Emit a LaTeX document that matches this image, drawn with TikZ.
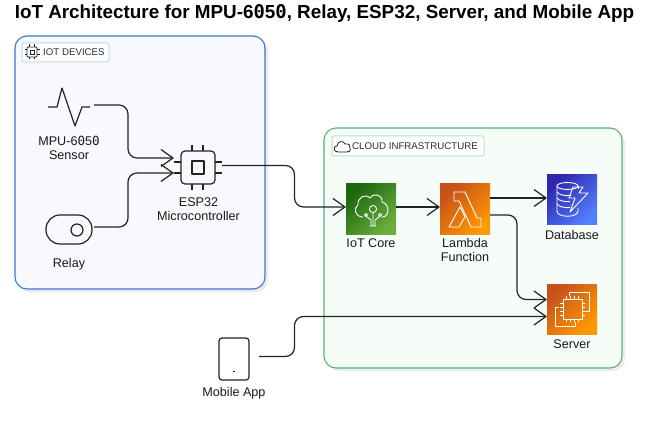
\documentclass[tikz,border=0pt]{standalone}
\usepackage{fontspec}
\setmainfont{Liberation Sans}
\newfontfamily\zerofont{DejaVu Sans Mono}[BoldFont={DejaVu Sans Mono Bold}]
\newcommand{\dz}{{\zerofont 0}}
\usetikzlibrary{arrows.meta}
\definecolor{lineC}{HTML}{222222}
\definecolor{blueS}{HTML}{3A78C8}
\definecolor{blueF}{HTML}{F7F9FD}
\definecolor{greenS}{HTML}{5CB07A}
\definecolor{greenF}{HTML}{F6FDF9}
\definecolor{iotA}{HTML}{1B660F}
\definecolor{iotB}{HTML}{6CAE3E}
\definecolor{lamA}{HTML}{C8511B}
\definecolor{lamB}{HTML}{FF9900}
\definecolor{dbA}{HTML}{2E27AD}
\definecolor{dbB}{HTML}{527FFF}
\tikzset{
  conn/.style={draw=lineC,line width=1.2pt,rounded corners=9pt,-{Straight Barb[length=12pt,width=17pt,line width=1.2pt]}},
  plainline/.style={draw=lineC,line width=1.2pt,line join=round},
  wline/.style={draw=white,line width=0.9pt,line join=round},
  lab/.style={font=\fontsize{12.6}{14}\selectfont,text=black!90,inner sep=0pt,align=center},
  tagbox/.style={rounded corners=2pt,fill=white,line width=1pt},
  tagtext/.style={font=\fontsize{9.7}{11}\selectfont,text=black!82,inner sep=0pt,anchor=west},
  shadowbox/.style={fill=black!8,draw=none,rounded corners=12pt},
  anchorbox/.style={inner sep=0pt,outer sep=0pt},
  awsbox/.style={inner sep=0pt,outer sep=0pt,minimum size=50pt,draw=none},
  iotshade/.style={left color=iotA,right color=iotB,shading angle=45},
  lamshade/.style={left color=lamA,right color=lamB,shading angle=45},
  dbshade/.style={left color=dbA,right color=dbB,shading angle=45},
}
\begin{document}
\begin{tikzpicture}[x=1pt,y=-1pt]
\useasboundingbox (0,0) rectangle (663,430);
\node[inner sep=0pt,font=\bfseries\fontsize{18.85}{22}\selectfont] (title) at (324.5,13) {IoT Architecture for MPU-6\dz5\dz, Relay, ESP32, Server, and Mobile App};

% groups
\draw[shadowbox] (18,39) rectangle (268,292);
\draw[draw=blueS,fill=blueF,line width=1.1pt,rounded corners=12pt] (15,36) rectangle (265,289);
\draw[shadowbox] (327,131) rectangle (625,371);
\draw[draw=greenS,fill=greenF,line width=1.1pt,rounded corners=12pt] (324,128) rectangle (622,368);

% tags
\draw[tagbox,draw=blueS!30] (22,43) rectangle (109,62);
\node[tagtext] (tagA) at (43,52.5) {IOT DEVICES};
\draw[lineC,line width=0.8pt,rounded corners=1pt] (27,47) rectangle (37,57);
\draw[lineC,line width=0.8pt] (30,50) rectangle (34,54);
\foreach \k in {29.5,34.5}{
  \draw[lineC,line width=0.7pt] (\k,44.5)--(\k,47) (\k,57)--(\k,59.5);
}
\foreach \k in {49.5,54.5}{
  \draw[lineC,line width=0.7pt] (24.5,\k)--(27,\k) (37,\k)--(39.5,\k);
}
\draw[tagbox,draw=greenS!40] (332,136) rectangle (484,156);
\node[tagtext] (tagB) at (352,146) {CLOUD INFRASTRUCTURE};
\draw[lineC,line width=0.8pt,line join=round] (338,152) .. controls (333,152) and (333,146) .. (337,146) .. controls (337,141) and (344,140) .. (345,144) .. controls (349,143) and (351,146) .. (350,148) .. controls (351,151) and (349,152) .. (347,152) -- cycle;

% sensor
\node[anchorbox,minimum width=46pt,minimum height=34pt] (sensor) at (71,105) {};
\draw[plainline] (48,107)--(57,107)--(62,88)--(75,126)--(82,107)--(90,107);
\node[lab] (sensorL) at (69,148) {MPU-6\dz5\dz\\Sensor};

% relay
\node[anchorbox,minimum width=48pt,minimum height=30pt] (relay) at (70,227) {};
\draw[plainline,rounded corners=14pt] (46,215) rectangle (92,244);
\draw[plainline] (77,230) circle (6);
\node[lab] (relayL) at (69,264.5) {Relay};

% chip
\node[anchorbox,minimum width=48pt,minimum height=45pt] (chip) at (198,167.5) {};
\draw[plainline,rounded corners=4pt] (181,151) rectangle (215,184);
\draw[plainline] (192,161) rectangle (204,174);
\foreach \k in {192,203}{
  \draw[plainline] (\k,145)--(\k,151) (\k,184)--(\k,190);
}
\foreach \k in {162,173}{
  \draw[plainline] (174,\k)--(181,\k) (215,\k)--(222,\k);
}
\node[lab] (chipL) at (198.5,209) {ESP32\\Microcontroller};

% mobile
\node[anchorbox,minimum width=40pt,minimum height=42pt] (mobile) at (239,356.5) {};
\draw[plainline,rounded corners=3pt] (219,338) rectangle (249,380);
\draw[lineC,line width=0.8pt] (233,371)--(235,371);
\node[lab] (mobileL) at (234,393) {Mobile App};

% AWS services
\node[awsbox,iotshade] (iot) at (371,209) {};
\node[lab] (iotL) at (371,243) {IoT Core};
\begin{scope}[shift={(346,184)}]
  \draw[wline] (17,33) .. controls (9,33) and (7,24) .. (12,21) .. controls (11,14) and (19,9) .. (24,14) .. controls (28,8) and (37,11) .. (36,18) .. controls (44,20) and (44,33) .. (36,33);
  \draw[wline] (27,25) circle (3.6);
  \draw[wline] (20,31) circle (1.6) (34,31) circle (1.6);
  \draw[wline] (25,42)--(25,36)--(20.5,32.5) (29,42)--(29,36)--(33.5,32.5) (27,42)--(27,29) (24,42)--(30,42);
\end{scope}

\node[awsbox,lamshade] (lambda) at (465,209) {};
\node[lab] (lambdaL) at (465,250) {Lambda\\Function};
\begin{scope}[shift={(440,184)}]
  \draw[wline] (14,8)--(25,8)--(37,34)--(41,34)--(41,43)--(31,43)--(19,17)--(14,17)--cycle;
  \draw[wline] (9,43)--(20,23)--(25,33)--(19,43)--cycle;
\end{scope}

\node[awsbox,dbshade] (db) at (572,200) {};
\node[lab] (dbL) at (572,235) {Database};
\begin{scope}[shift={(547,175)}]
  \draw[wline] (20.5,11) ellipse (10.5 and 3.5);
  \draw[wline] (10,11)--(10,36) .. controls (10,43) and (31,43) .. (31,36)--(31,33);
  \draw[wline] (31,11)--(31,14);
  \draw[wline] (10,17) .. controls (12,20) and (18,21) .. (24,20.5);
  \draw[wline] (10,23) .. controls (12,26) and (18,27) .. (23,26.5);
  \draw[wline] (10,29) .. controls (12,32) and (18,33) .. (23,32.5);
  \draw[wline] (26,12)--(36,12)--(32,18)--(41,18)--(23,37)--(28,23)--(22,23)--cycle;
\end{scope}

\node[awsbox,lamshade] (server) at (572,309) {};
\node[lab] (serverL) at (572,344) {Server};
\begin{scope}[shift={(547,284)}]
  \draw[wline] (22,12)--(22,8)--(42,8)--(42,27)--(38,27);
  \draw[wline] (12,23)--(8,23)--(8,42)--(28,42)--(28,38);
  \draw[wline] (16,15) rectangle (35,35);
  \foreach \k in {19,23,27,31}{
    \draw[draw=white,line width=0.8pt] (\k,12)--(\k,15) (\k,35)--(\k,38);
  }
  \foreach \k in {18,22,26,30}{
    \draw[draw=white,line width=0.8pt] (13,\k+1)--(16,\k+1) (35,\k+1)--(38,\k+1);
  }
\end{scope}

% connectors
\draw[conn] (sensor.east) -| (128,158) -- ([yshift=9.5pt]chip.west);
\draw[conn] (relay.east) -| (128,173) -- ([yshift=-5.5pt]chip.west);
\draw[conn] ([yshift=2pt]chip.east) -| (294.5,207) -- ([yshift=2pt]iot.west);
\draw[conn] ([yshift=2pt]iot.east) -- ([yshift=2pt]lambda.west);
\draw[conn] ([yshift=11pt]lambda.east) -- ([yshift=2pt]db.west);
\draw[conn] ([yshift=-6pt]lambda.east) -| (517,299.5) -- ([yshift=9.5pt]server.west);
\draw[conn] (mobile.east) -| (294.5,316.5) -- ([yshift=-7.5pt]server.west);
\end{tikzpicture}
\end{document}
